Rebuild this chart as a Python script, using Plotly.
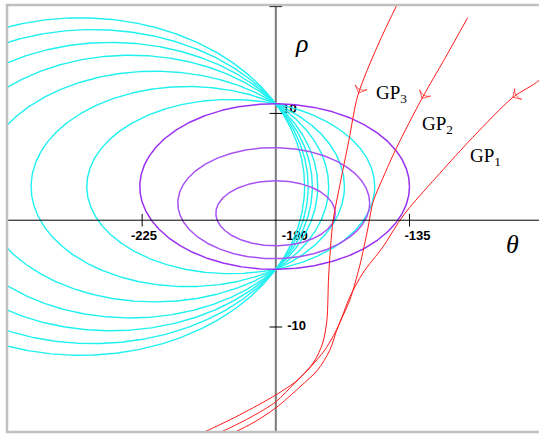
import numpy as np
import plotly.graph_objects as go

# ---- axis settings --------------------------------------------------------
THETA_RANGE = [-270.5, -91.4]
RHO_RANGE = [-19.83, 20.15]
THETA_AXIS = -180          # vertical axis sits at theta = -180
theta_ticks = [-225, -135]
rho_ticks = [20, 10, -10]

# ---- cyan family: curves through the two common points --------------------
pinch_top = 10.9
pinch_bottom = -4.6
cyan_top = [18.95, 17.85, 16.65, 15.45, 13.95, 12.52, 11.31]
cyan_right = [-170.3, -169.1, -167.7, -165.9, -162.2, -156.9, -146.7]

# ---- purple closed orbits (extents) ----------------------------------------
purple_left = [-225.8, -213.0, -200.2]
purple_right = [-135.0, -148.4, -160.0]
purple_top = [10.9, 6.8, 3.7]
purple_bottom = [-4.6, -3.6, -2.4]
purple_colors = ["#9a30f2", "#a752f3", "#a752f3"]

# ---- trajectories GP1, GP2, GP3 -------------------------------------------
gp1_theta = [-87.0, -91.4, -100.2, -113.7, -124.8, -134.9, -138.2, -144.0, -150.7,
             -155.1, -159.1, -163.5, -168.6, -173.6, -180.0, -188.8, -198.2, -206.0]
gp1_rho = [14.6, 13.08, 11.50, 7.76, 4.39, 1.21, 0.0, -2.52, -4.95,
           -7.20, -10.0, -12.15, -13.83, -15.23, -17.0, -18.5, -19.8, -20.7]

gp2_theta = [-115.4, -123.1, -130.8, -139.3, -144.0, -147.3, -149.0, -151.7, -155.1,
             -159.1, -161.8, -165.9, -171.9, -180.0, -187.1, -193.5, -201.0]
gp2_rho = [18.97, 15.14, 11.40, 6.82, 3.93, 1.68, -0.75, -4.21, -7.48,
           -10.0, -12.15, -14.02, -15.61, -17.57, -18.88, -19.81, -20.8]

gp3_theta = [-138.2, -145.7, -152.4, -155.4, -158.8, -160.8, -162.2, -162.8, -164.2,
             -167.2, -172.6, -180.0, -192.1, -203.9, -212.0]
gp3_rho = [20.75, 16.36, 11.68, 7.48, 2.80, -0.19, -5.14, -9.35, -11.50,
           -13.27, -14.95, -16.36, -18.22, -19.81, -20.8]

gp_arrow_rho = [11.5, 11.4, 11.9]   # where the direction arrows sit

RED = "#ff1a1a"
fig = go.Figure()

# tick labels (drawn first so the curves pass over them)
tick_font = dict(family="Liberation Sans", size=13, color="black", weight="bold")
fig.add_trace(go.Scatter(
    x=[-224.4, -173.6, -132.3], y=[-1.57, -1.57, -1.57],
    text=["-225", "-180", "-135"], mode="text", hoverinfo="skip",
    textfont=tick_font, showlegend=False))
fig.add_trace(go.Scatter(
    x=[-175.4, -173.0], y=[10.3, -10.0],
    text=["10", "-10"], mode="text", hoverinfo="skip",
    textfont=tick_font, showlegend=False))

# cyan curves
c0 = (pinch_top + pinch_bottom) / 2
h = (pinch_top - pinch_bottom) / 2
t = np.linspace(0, 2 * np.pi, 721)
for top, right in zip(cyan_top, cyan_right):
    b = top - c0
    u = np.sqrt(1 - (h / b) ** 2)
    a = (right - THETA_AXIS) / (1 - u)
    cx = right - a
    fig.add_trace(go.Scatter(
        x=cx + a * np.cos(t), y=c0 + b * np.sin(t), mode="lines",
        line=dict(color="#1ff0f0", width=1.4), hoverinfo="skip", showlegend=False))

# purple orbits
for L, R, T, B, col in zip(purple_left, purple_right, purple_top, purple_bottom, purple_colors):
    cx, a = (L + R) / 2, (R - L) / 2
    cy, b = (T + B) / 2, (T - B) / 2
    fig.add_trace(go.Scatter(
        x=cx + a * np.cos(t), y=cy + b * np.sin(t), mode="lines",
        line=dict(color=col, width=1.5), hoverinfo="skip", showlegend=False))

# red trajectories with direction chevrons
gps = [(gp1_theta, gp1_rho), (gp2_theta, gp2_rho), (gp3_theta, gp3_rho)]
for (th, rh), ar in zip(gps, gp_arrow_rho):
    fig.add_trace(go.Scatter(
        x=th, y=rh, mode="lines",
        line=dict(color=RED, width=1, shape="spline", smoothing=0.8),
        hoverinfo="skip", showlegend=False))
    rr = np.array(rh)[::-1]
    tt = np.array(th)[::-1]
    hx = float(np.interp(ar, rr, tt))
    tx = float(np.interp(ar + 0.4, rr, tt))
    fig.add_trace(go.Scatter(
        x=[tx, hx], y=[ar + 0.4, ar], mode="markers", hoverinfo="skip",
        marker=dict(symbol="arrow-wide-open", angleref="previous", size=[0, 9],
                    color=RED, line=dict(color=RED, width=1)),
        showlegend=False))

# tick marks
fig.add_trace(go.Scatter(
    x=theta_ticks, y=[0] * len(theta_ticks), mode="markers", hoverinfo="skip",
    marker=dict(symbol="line-ns", size=9, line=dict(color="black", width=1)),
    showlegend=False))
fig.add_trace(go.Scatter(
    x=[THETA_AXIS] * len(rho_ticks), y=rho_ticks, mode="markers", hoverinfo="skip",
    marker=dict(symbol="line-ew", size=9, line=dict(color="black", width=1)),
    showlegend=False))

# axes crossing at (-180, 0)
fig.add_shape(type="line", xref="x", yref="paper", x0=THETA_AXIS, x1=THETA_AXIS,
              y0=0, y1=1, line=dict(color="#7a7a7a", width=2), layer="below")
fig.add_shape(type="line", xref="paper", yref="y", x0=0, x1=1, y0=0, y1=0,
              line=dict(color="black", width=1))
# frame
fig.add_shape(type="rect", xref="paper", yref="paper", x0=0, x1=1.02, y0=0, y1=1,
              line=dict(color="#c0c0c0", width=2.5))

# labels
serif = "Liberation Serif"
fig.add_annotation(x=-171.3, y=16.5, text="<i>ρ</i>", showarrow=False,
                   font=dict(family=serif, size=26, color="black"))
fig.add_annotation(x=-100.3, y=-2.25, text="<i>θ</i>", showarrow=False,
                   font=dict(family=serif, size=26, color="black"))
for lbl, x, y in [("GP<sub>3</sub>", -141.0, 11.8), ("GP<sub>2</sub>", -125.5, 8.95),
                  ("GP<sub>1</sub>", -109.3, 5.9)]:
    fig.add_annotation(x=x, y=y, text=lbl, showarrow=False,
                       font=dict(family=serif, size=19, color="black"))

fig.update_xaxes(range=THETA_RANGE, visible=False)
fig.update_yaxes(range=RHO_RANGE, visible=False)
fig.update_layout(width=539, height=434, margin=dict(l=7, r=0, t=5, b=2),
                  plot_bgcolor="white", paper_bgcolor="white")

fig.write_html("out.html")
